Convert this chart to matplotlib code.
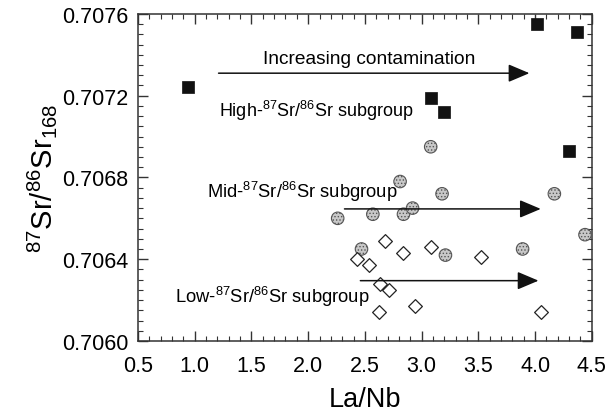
import numpy as np
import matplotlib
matplotlib.use('Agg')
import matplotlib.pyplot as plt
from matplotlib.ticker import MultipleLocator, FormatStrFormatter

plt.rcParams['font.family'] = ['Liberation Sans', 'DejaVu Sans']
plt.rcParams['mathtext.fontset'] = 'custom'
plt.rcParams['mathtext.rm'] = 'Liberation Sans'
plt.rcParams['mathtext.default'] = 'regular'
plt.rcParams['hatch.linewidth'] = 0.6

# High-87Sr/86Sr subgroup (black squares)
high_lanb = [0.94, 4.02, 4.37, 3.08, 3.20, 4.30]
high_sr = [0.70724, 0.70755, 0.70751, 0.70719, 0.70712, 0.70693]

# Mid-87Sr/86Sr subgroup (stippled circles)
mid_lanb = [3.08, 2.81, 3.18, 4.17, 2.26, 2.57, 2.84, 2.92, 4.44, 2.47, 3.21, 3.89]
mid_sr = [0.70695, 0.70678, 0.70672, 0.70672, 0.70660, 0.70662, 0.70662, 0.70665,
          0.70652, 0.70645, 0.70642, 0.70645]

# Low-87Sr/86Sr subgroup (open diamonds)
low_lanb = [2.43, 2.54, 2.68, 2.84, 3.08, 3.52, 2.63, 2.71, 2.94, 2.62, 4.05]
low_sr = [0.70640, 0.70637, 0.70649, 0.70643, 0.70646, 0.70641, 0.70628, 0.70625,
          0.70617, 0.70614, 0.70614]

# arrows: (x start, x end, y)
arrows = [(1.21, 3.95, 0.70731), (2.32, 4.05, 0.706646), (2.46, 4.03, 0.706295)]

fig = plt.figure(figsize=(6.12, 4.14), dpi=100)
ax = fig.add_axes([0.2255, 0.174, 0.7415, 0.79])

ax.scatter(mid_lanb, mid_sr, s=9.0**2, marker='o', facecolor='#c8c8c8',
           edgecolor='#555555', linewidths=0.8, hatch='.....', zorder=3)
ax.scatter(low_lanb, low_sr, s=7.0**2, marker='D', facecolor='white',
           edgecolor='#222222', linewidths=0.9, zorder=3)
ax.scatter(high_lanb, high_sr, s=9.0**2, marker='s', facecolor='#111111',
           edgecolor='#111111', linewidths=0.5, zorder=4)

for x0, x1, y in arrows:
    ax.annotate('', xy=(x1, y), xytext=(x0, y),
                arrowprops=dict(arrowstyle='-|>,head_length=1.3,head_width=0.55',
                                color='#111111', lw=1.1, shrinkA=0, shrinkB=0))

ax.text(2.54, 0.70738, 'Increasing contamination', fontsize=13.8, ha='center', va='center')
ax.text(1.21, 0.70713, 'High-$^{87}$Sr/$^{86}$Sr subgroup', fontsize=13, ha='left', va='center')
ax.text(1.11, 0.706735, 'Mid-$^{87}$Sr/$^{86}$Sr subgroup', fontsize=13.2, ha='left', va='center')
ax.text(0.83, 0.70622, 'Low-$^{87}$Sr/$^{86}$Sr subgroup', fontsize=13.2, ha='left', va='center')

ax.set_xlim(0.5, 4.5)
ax.set_ylim(0.7060, 0.7076)
ax.xaxis.set_major_locator(MultipleLocator(0.5))
ax.xaxis.set_minor_locator(MultipleLocator(0.1))
ax.yaxis.set_major_locator(MultipleLocator(0.0004))
ax.yaxis.set_minor_locator(MultipleLocator(0.00005))
ax.xaxis.set_major_formatter(FormatStrFormatter('%.1f'))
ax.yaxis.set_major_formatter(FormatStrFormatter('%.4f'))
ax.tick_params(which='both', direction='in', top=True, right=True, labelsize=15.5, color='#333333')
ax.tick_params(which='major', length=7, width=1.0)
ax.tick_params(which='minor', length=3.5, width=0.8)
ax.tick_params(axis='x', which='major', pad=10)
ax.tick_params(axis='y', which='major', pad=7)
for sp in ax.spines.values():
    sp.set_linewidth(1.1)
    sp.set_color('#333333')

ax.set_xlabel('La/Nb', fontsize=19.5, labelpad=7.5)
ax.set_ylabel('$^{87}$Sr/$^{86}$Sr$_{168}$', fontsize=21, labelpad=2)

fig.savefig('out.png', dpi=100)
